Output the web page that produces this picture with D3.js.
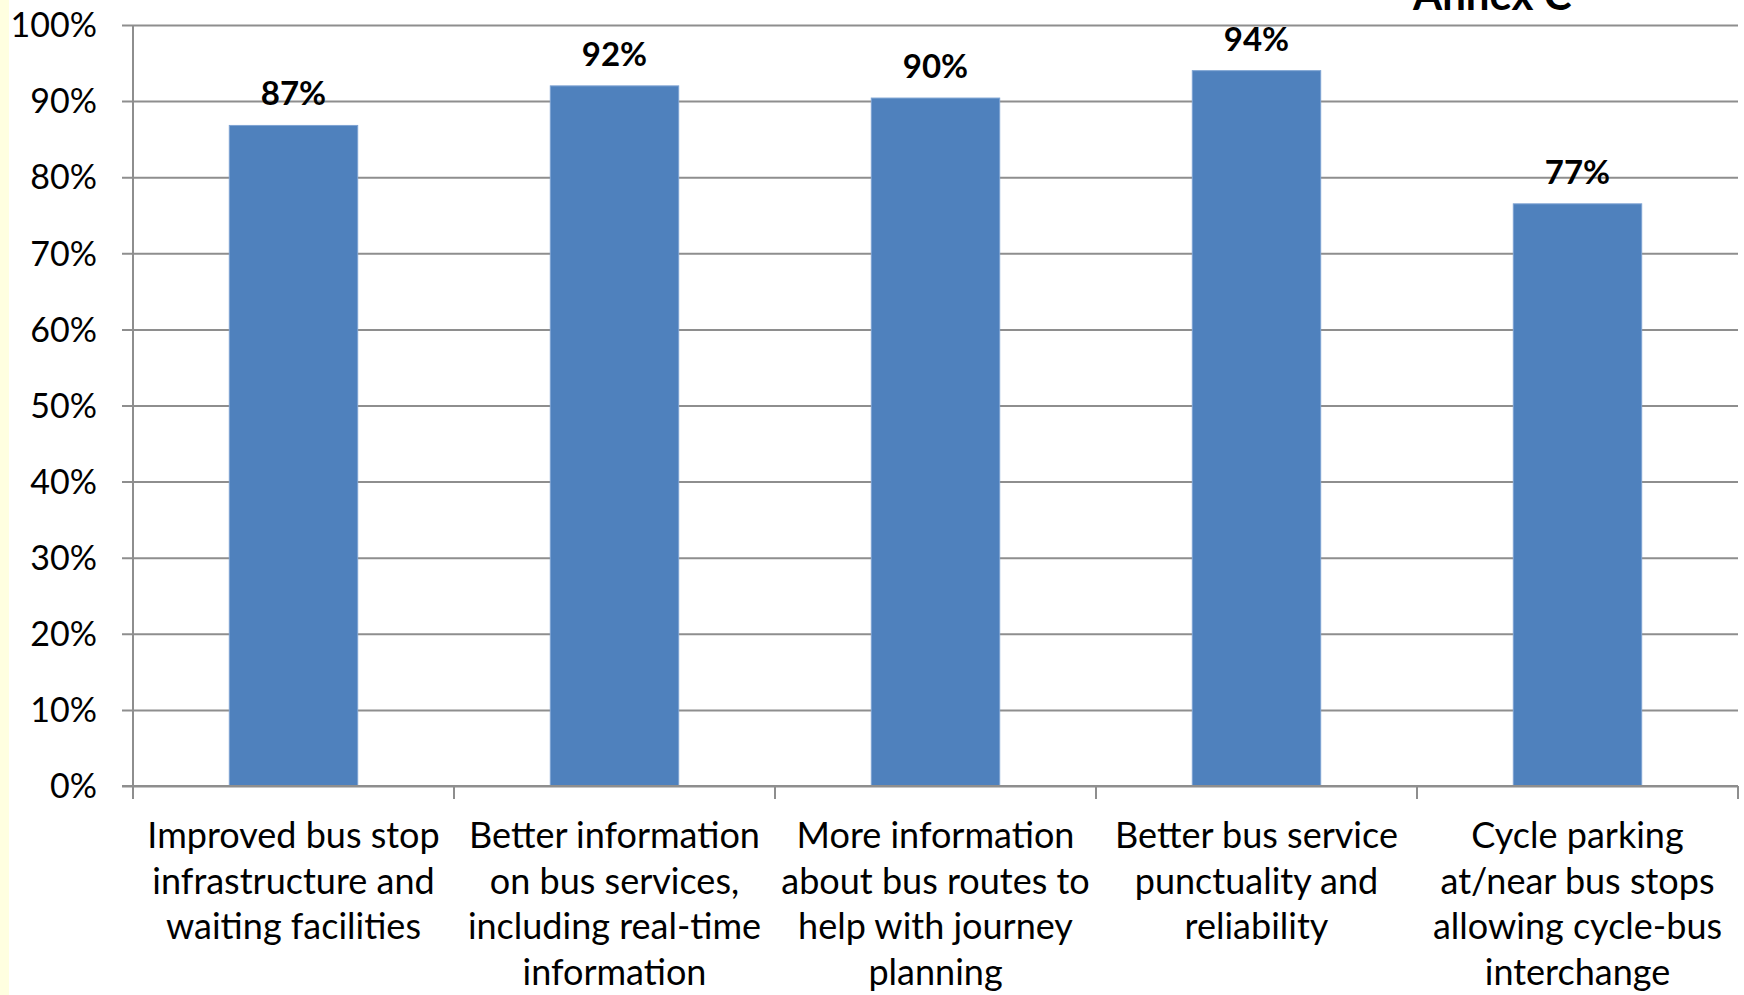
<!DOCTYPE html>
<html>
<head>
<meta charset="utf-8">
<script src="https://cdn.jsdelivr.net/npm/d3@7"></script>
<style>
  html, body { margin: 0; padding: 0; background: #fff; overflow: hidden; }
  svg { display: block; font-family: Lato, "Open Sans", sans-serif; }
  .grid line { stroke: #8e8e8e; stroke-width: 2; }
  .grid path { display: none; }
  .axis path, .axis line { stroke: #8e8e8e; stroke-width: 2; }
</style>
</head>
<body>
<script>
(function () {
  'use strict';

  // categories (wrapped the way the original labels wrap)
  const categories = [
    ['Improved bus stop', 'infrastructure and', 'waiting facilities'],
    ['Better information', 'on bus services,', 'including real-time', 'information'],
    ['More information', 'about bus routes to', 'help with journey', 'planning'],
    ['Better bus service', 'punctuality and', 'reliability'],
    ['Cycle parking', 'at/near bus stops', 'allowing cycle-bus', 'interchange']
  ];
  // share of respondents
  const values = [0.868, 0.920, 0.904, 0.940, 0.765];
  const yTicks = [0, 0.1, 0.2, 0.3, 0.4, 0.5, 0.6, 0.7, 0.8, 0.9, 1.0];
  const title = 'Annex C';

  const W = 1744, H = 995;
  const margin = { left: 133, top: 25, right: 6, bottom: 209 };
  const width = W - margin.left - margin.right;
  const height = H - margin.top - margin.bottom;

  const svg = d3.select('body')
    .append('svg')
    .attr('width', W)
    .attr('height', H);

  // pale yellow strip on the left edge
  svg.append('rect')
    .attr('x', 0).attr('y', 0)
    .attr('width', 9).attr('height', H)
    .attr('fill', '#ffffe0');

  const g = svg.append('g')
    .attr('transform', `translate(${margin.left},${margin.top})`);

  const keys = categories.map((c, i) => i);

  let xScale = d3.scaleBand()
    .domain(keys)
    .range([0, width])
    .paddingInner(0.6)
    .paddingOuter(0.3);

  let yScale = d3.scaleLinear()
    .domain([0, 1])
    .range([height, 0]);

  // horizontal gridlines (with the little tick stub left of the axis)
  g.append('g')
    .attr('class', 'grid')
    .attr('transform', 'translate(-11,0)')
    .call(d3.axisLeft(yScale)
      .tickValues(yTicks)
      .tickSize(-(width + 11))
      .tickFormat('')
    );

  // y tick labels
  g.append('g')
    .selectAll('text')
    .data(yTicks)
    .enter()
    .append('text')
    .attr('x', -36)
    .attr('y', d => yScale(d))
    .attr('dy', '0.36em')
    .attr('text-anchor', 'end')
    .attr('font-size', 34)
    .attr('fill', '#000')
    .text(d3.format('.0%'));

  // y axis line
  g.append('line')
    .attr('class', 'axis')
    .attr('x1', 0).attr('x2', 0)
    .attr('y1', yScale(1)).attr('y2', yScale(0))
    .attr('stroke', '#8e8e8e')
    .attr('stroke-width', 2);

  // bars
  g.append('g')
    .selectAll('rect')
    .data(values)
    .enter()
    .append('rect')
    .attr('x', (d, i) => xScale(i))
    .attr('y', d => yScale(d))
    .attr('width', xScale.bandwidth())
    .attr('height', d => yScale(0) - yScale(d))
    .attr('fill', '#4f81bd')
    .attr('stroke', '#7ea3d2')
    .attr('stroke-width', 1);

  // value labels
  g.append('g')
    .selectAll('text')
    .data(values)
    .enter()
    .append('text')
    .attr('x', (d, i) => xScale(i) + xScale.bandwidth() / 2)
    .attr('y', d => yScale(d) - 20)
    .attr('text-anchor', 'middle')
    .attr('font-size', 33)
    .attr('font-weight', 'bold')
    .attr('fill', '#000')
    .text(d => d3.format('.0%')(d));

  // x axis: line along 0% with ticks on the category boundaries
  const step = xScale.step();
  const bounds = d3.range(categories.length + 1).map(i => i * step);
  const xAxis = g.append('g')
    .attr('class', 'axis')
    .attr('transform', `translate(0,${height})`);
  xAxis.append('line')
    .attr('x1', -11).attr('x2', width)
    .attr('y1', 0).attr('y2', 0);
  xAxis.selectAll('.tick')
    .data(bounds)
    .enter()
    .append('line')
    .attr('x1', d => d).attr('x2', d => d)
    .attr('y1', 0).attr('y2', 13);

  // category labels
  const labels = g.append('g')
    .selectAll('text')
    .data(categories)
    .enter()
    .append('text')
    .attr('transform', (d, i) =>
      `translate(${xScale(i) + xScale.bandwidth() / 2},${height + 62})`)
    .attr('text-anchor', 'middle')
    .attr('font-size', 36)
    .attr('fill', '#000');
  labels.selectAll('tspan')
    .data(d => d)
    .enter()
    .append('tspan')
    .attr('x', 0)
    .attr('y', (d, i) => i * 45.7)
    .text(d => d);

  // title, cut off at the top edge as in the original
  svg.append('text')
    .attr('x', 1413)
    .attr('y', 10)
    .attr('font-size', 42)
    .attr('font-weight', 'bold')
    .attr('fill', '#000')
    .text(title);
})();
</script>
</body>
</html>
